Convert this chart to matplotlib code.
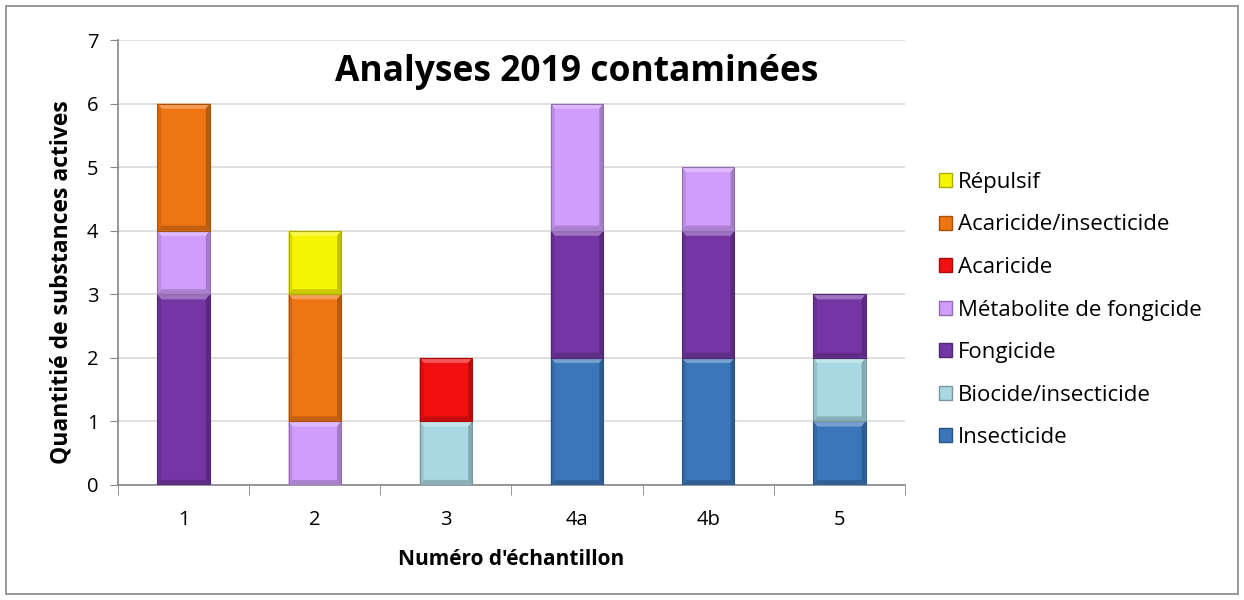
import numpy as np
import matplotlib.pyplot as plt
from matplotlib.patches import Polygon, Patch
from matplotlib.colors import to_rgb

plt.rcParams['font.family'] = ['Open Sans', 'DejaVu Sans']

# données
echantillons = ['1', '2', '3', '4a', '4b', '5']
series = ['Insecticide', 'Biocide/insecticide', 'Fongicide',
          'Métabolite de fongicide', 'Acaricide', 'Acaricide/insecticide', 'Répulsif']
insecticide = [0, 0, 0, 2, 2, 1]
biocide = [0, 0, 1, 0, 0, 1]
fongicide = [3, 0, 0, 2, 2, 1]
metabolite = [1, 1, 0, 2, 1, 0]
acaricide = [0, 0, 1, 0, 0, 0]
acar_insect = [2, 2, 0, 0, 0, 0]
repulsif = [0, 1, 0, 0, 0, 0]
valeurs = [insecticide, biocide, fongicide, metabolite, acaricide, acar_insect, repulsif]
couleurs = ['#3b76ba', '#a8d8e2', '#7436a4', '#d09dfc', '#f20f0f', '#ef7412', '#f6f600']


def shade(c, f):
    r = np.array(to_rgb(c))
    if f > 0:
        return tuple(r + (1 - r) * f)
    return tuple(r * (1 + f))


fig = plt.figure(figsize=(12.44, 6), dpi=100)
ax = fig.add_axes([118 / 1244, 1 - 485 / 600, 787 / 1244, 445 / 600])

x = np.arange(len(echantillons))
w = 0.40
bottom = np.zeros(len(x))
bx, by = 0.03, 0.08  # taille du biseau (unités de données)
for vals, col in zip(valeurs, couleurs):
    vals = np.array(vals, dtype=float)
    bars = ax.bar(x, vals, w, bottom=bottom, color=col, edgecolor='none', zorder=3)
    for b, v in zip(bars, vals):
        if v == 0:
            continue
        x0, y0 = b.get_x(), b.get_y()
        x1, y1 = x0 + b.get_width(), y0 + b.get_height()
        # biseau : haut clair, bas et côtés plus sombres
        ax.add_patch(Polygon([(x0, y1), (x1, y1), (x1 - bx, y1 - by), (x0 + bx, y1 - by)],
                             closed=True, fc=shade(col, 0.3), ec='none', zorder=4))
        ax.add_patch(Polygon([(x0, y0), (x1, y0), (x1 - bx, y0 + by), (x0 + bx, y0 + by)],
                             closed=True, fc=shade(col, -0.18), ec='none', zorder=4))
        ax.add_patch(Polygon([(x0, y0), (x0 + bx, y0 + by), (x0 + bx, y1 - by), (x0, y1)],
                             closed=True, fc=shade(col, -0.1), ec='none', zorder=4))
        ax.add_patch(Polygon([(x1, y0), (x1 - bx, y0 + by), (x1 - bx, y1 - by), (x1, y1)],
                             closed=True, fc=shade(col, -0.22), ec='none', zorder=4))
        ax.add_patch(Polygon([(x0, y0), (x1, y0), (x1, y1), (x0, y1)],
                             closed=True, fc='none', ec=shade(col, -0.3), lw=0.8, zorder=5))
    bottom += vals

ax.set_xlim(-0.5, len(x) - 0.5)
ax.set_ylim(0, 7)
ax.set_yticks(range(8))
ax.set_xticks(x)
ax.set_xticklabels(echantillons)
ax.set_xticks(np.arange(len(x) + 1) - 0.5, minor=True)
ax.tick_params(axis='x', which='major', length=0, labelsize=14.5, pad=18)
ax.tick_params(axis='x', which='minor', length=7, color='#868686', direction='out')
ax.tick_params(axis='y', length=6, color='#868686', labelsize=14.5, pad=8)
ax.yaxis.grid(True, color='#d9d9d9', lw=1.2, zorder=0)
ax.set_axisbelow(True)
for s in ['top', 'right']:
    ax.spines[s].set_visible(False)
for s in ['left', 'bottom']:
    ax.spines[s].set_color('#868686')
    ax.spines[s].set_linewidth(1.2)

ax.set_xlabel("Numéro d'échantillon", fontsize=15, fontweight='bold', labelpad=14)
ax.set_ylabel('Quantitié de substances actives', fontsize=16.5, fontweight='bold')
ax.yaxis.set_label_coords(-0.056, 0.455)
ax.text(3.0, 6.5, 'Analyses 2019 contaminées', fontsize=25.5, fontweight='bold',
        ha='center', va='center')

handles = [Patch(facecolor=c, edgecolor=shade(c, -0.3), label=s)
           for s, c in zip(series, couleurs)][::-1]
fig.legend(handles=handles, loc='center left', bbox_to_anchor=(939 / 1244, 1 - 310 / 600),
           frameon=False, fontsize=16, handlelength=0.6, handleheight=0.6,
           handletextpad=0.25, labelspacing=0.97, borderpad=0, borderaxespad=0)

# cadre extérieur
fig.add_artist(plt.Rectangle((6 / 1244, 6 / 600), 1 - 12 / 1244, 1 - 12 / 600,
                             transform=fig.transFigure, fill=False, ec='#868686', lw=1.2))

fig.savefig('out.png', dpi=100)
